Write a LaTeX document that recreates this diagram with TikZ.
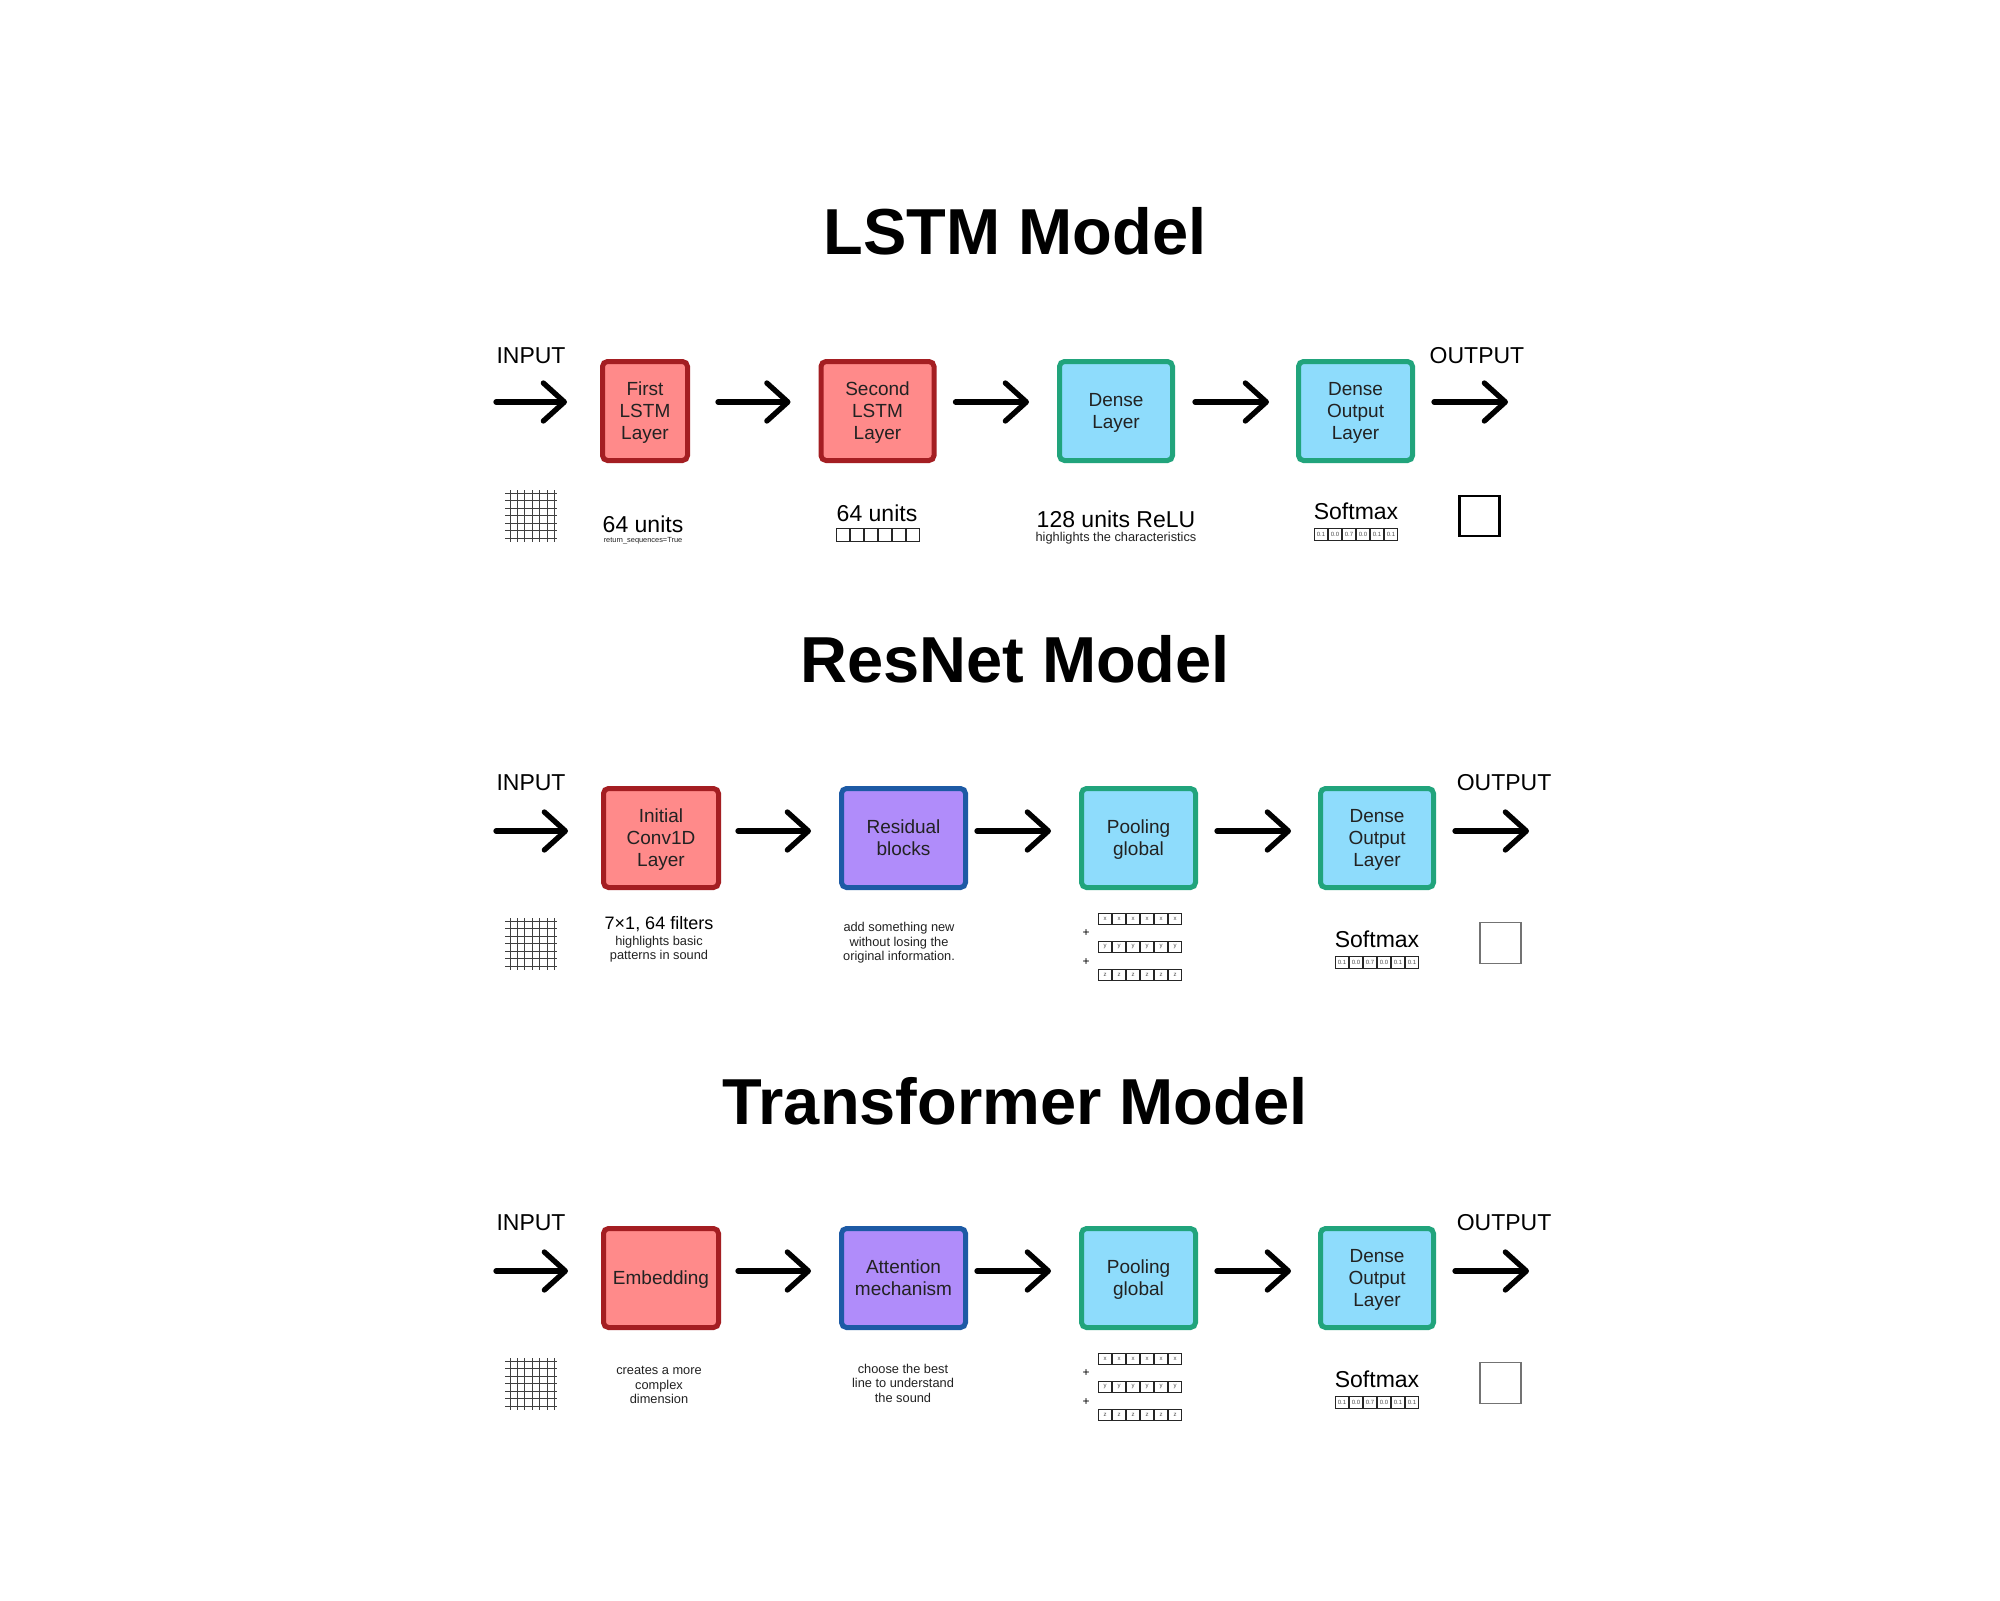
\documentclass[tikz,border=0pt]{standalone}
\usepackage{fontspec}
\setmainfont{Liberation Sans}
\usetikzlibrary{arrows.meta}

\definecolor{redfill}{HTML}{FF8A8A}
\definecolor{redline}{HTML}{A41E22}
\definecolor{cyanfill}{HTML}{8EDCFC}
\definecolor{tealline}{HTML}{21A47C}
\definecolor{violetfill}{HTML}{B08CFA}
\definecolor{blueline}{HTML}{1D5AA5}
\definecolor{inkgray}{HTML}{222222}

% grid icon for the input sound, top left corner at (#1,#2)
\newcommand{\soundgrid}[2]{%
  \foreach \k in {0,...,6}{%
    \draw[gridline] ({#1+5+7.4*\k},#2) -- ++(0,52);
    \draw[gridline] (#1,{#2+3.3+7.5*\k}) -- ++(52,0);
  }}
% a row of six small cells: name, left x, top y, height, labels
\newcommand{\cellrow}[5]{%
  \foreach \lab [count=\k] in {#5}{%
    \node[cell, minimum height=#4*0.5pt-0.6pt, name=#1\k] at ({#2+14*(\k-0.5)},{#3+#4/2}) {\lab};
  }}

\begin{document}
\begin{tikzpicture}[x=0.5pt,y=-0.5pt,
  title/.style={font=\fontsize{32.5}{39}\selectfont\bfseries, anchor=base},
  io/.style={font=\fontsize{11.5}{14}\selectfont, anchor=base},
  big/.style={font=\fontsize{11.5}{14}\selectfont, anchor=base},
  mid/.style={font=\fontsize{9}{11}\selectfont, anchor=base},
  note/.style={font=\fontsize{6.4}{7.25}\selectfont, align=center, text=inkgray, inner sep=0pt},
  tinynote/.style={font=\fontsize{3.7}{4}\selectfont, anchor=base, text=inkgray, inner sep=0pt},
  layer/.style={draw, line width=2.5pt, rounded corners=2.5pt, minimum height=49.5pt,
    align=center, text=inkgray, font=\fontsize{9.5}{11}\selectfont, inner sep=0pt,
    text depth=0pt},
  redlayer/.style={layer, fill=redfill, draw=redline},
  cyanlayer/.style={layer, fill=cyanfill, draw=tealline},
  violetlayer/.style={layer, fill=violetfill, draw=blueline},
  flow/.style={line width=2.65pt, line cap=round,
    -{Straight Barb[length=10.5pt,width=19pt,round]}},
  gridline/.style={line width=0.5pt, draw=black!75},
  cell/.style={draw=black!85, line width=0.6pt, minimum width=6.4pt, inner sep=0pt,
    font=\fontsize{3}{3}\selectfont, text=black!70},
  plus/.style={font=\fontsize{6}{6}\selectfont, inner sep=0pt},
  outbox/.style={draw, line width=1.25pt, minimum size=20pt, inner sep=0pt},
  outboxthin/.style={draw=black!55, line width=0.7pt, minimum size=20.5pt, inner sep=0pt}
]
\useasboundingbox[fill=white] (0,0) rectangle (2000,1600);

% ---- LSTM ----
\node[title] (t-lstm) at (1015,254) {LSTM Model};
\node[io] (l-input) at (531,363) {INPUT};
\node[io] (l-output) at (1477,363) {OUTPUT};
\coordinate (l-in) at (496,402);
\coordinate (l-out) at (1508,402);
\node[redlayer, minimum width=42.5pt] (l1) at (645,411) {First\\LSTM\\Layer};
\node[redlayer, minimum width=56.5pt] (l2) at (877.5,411) {Second\\LSTM\\Layer};
\node[cyanlayer, minimum width=56.5pt] (l3) at (1116,411) {Dense\\Layer};
\node[cyanlayer, minimum width=57pt] (l4) at (1355.5,411) {Dense\\Output\\Layer};
\draw[flow, shorten >=16.5pt] (l-in) -- ([yshift=4.5pt]l1.west);
\draw[flow, shorten <=14pt, shorten >=14pt] ([yshift=4.5pt]l1.east) -- ([yshift=4.5pt]l2.west);
\draw[flow, shorten <=9.5pt, shorten >=14pt] ([yshift=4.5pt]l2.east) -- ([yshift=4.5pt]l3.west);
\draw[flow, shorten <=10pt, shorten >=13.5pt] ([yshift=4.5pt]l3.east) -- ([yshift=4.5pt]l4.west);
\draw[flow, shorten <=9.5pt] ([yshift=4.5pt]l4.east) -- (l-out);

\soundgrid{505}{490}
\node[big] (l1-units) at (643,532) {64 units};
\node[tinynote] (l1-note) at (643,542) {return\_sequences=True};
\node[big] (l2-units) at (877,521) {64 units};
\cellrow{l2c}{836}{528}{14}{{},{},{},{},{},{}}
\node[big] (l3-units) at (1116,527) {128 units ReLU};
\node[note, anchor=base] (l3-note) at (1116,541) {highlights the characteristics};
\node[big] (l4-soft) at (1356,519) {Softmax};
\cellrow{l4c}{1314}{528}{13}{0.1,0.0,0.7,0.0,0.1,0.1}
\node[outbox] (l-result) at (1479.5,516) {};

% ---- ResNet ----
\node[title] (t-resnet) at (1015,682) {ResNet Model};
\node[io] (r-input) at (531,790) {INPUT};
\node[io] (r-output) at (1504,790) {OUTPUT};
\coordinate (r-in) at (496,831);
\coordinate (r-out) at (1529,831);
\node[redlayer, minimum width=57.5pt] (r1) at (661,838) {Initial\\Conv1D\\Layer};
\node[violetlayer, minimum width=62pt] (r2) at (903.5,838) {Residual\\blocks};
\node[cyanlayer, minimum width=57pt] (r3) at (1138.5,838) {Pooling\\global};
\node[cyanlayer, minimum width=56.5pt] (r4) at (1377,838) {Dense\\Output\\Layer};
\draw[flow, shorten >=16.5pt] (r-in) -- ([yshift=3.5pt]r1.west);
\draw[flow, shorten <=8.5pt, shorten >=14pt] ([yshift=3.5pt]r1.east) -- ([yshift=3.5pt]r2.west);
\draw[flow, shorten <=4.5pt, shorten >=14pt] ([yshift=3.5pt]r2.east) -- ([yshift=3.5pt]r3.west);
\draw[flow, shorten <=9.5pt, shorten >=13.5pt] ([yshift=3.5pt]r3.east) -- ([yshift=3.5pt]r4.west);
\draw[flow, shorten <=9.5pt] ([yshift=3.5pt]r4.east) -- (r-out);

\soundgrid{505}{918}
\node[mid] (r1-units) at (659,929) {7×1, 64 filters};
\node[note] (r1-note) at (659,949) {highlights basic\\patterns in sound};
\node[note] (r2-note) at (899,943) {add something new\\without losing the\\original information.};
\cellrow{rx}{1098}{913}{12}{x,x,x,x,x,x}
\node[plus] (r-plus1) at (1086,933) {+};
\cellrow{ry}{1098}{941}{12}{y,y,y,y,y,y}
\node[plus] (r-plus2) at (1086,962) {+};
\cellrow{rz}{1098}{969}{12}{z,z,z,z,z,z}
\node[big] (r4-soft) at (1377,947) {Softmax};
\cellrow{r4c}{1335}{956}{13}{0.1,0.0,0.7,0.0,0.1,0.1}
\node[outboxthin] (r-result) at (1500.5,943) {};

% ---- Transformer ----
\node[title] (t-trans) at (1015,1124) {Transformer Model};
\node[io] (t-input) at (531,1230) {INPUT};
\node[io] (t-output) at (1504,1230) {OUTPUT};
\coordinate (t-in) at (496,1271);
\coordinate (t-out) at (1529,1271);
\node[redlayer, minimum width=57.5pt] (e1) at (661,1278) {Embedding};
\node[violetlayer, minimum width=62pt] (e2) at (903.5,1278) {Attention\\mechanism};
\node[cyanlayer, minimum width=57pt] (e3) at (1138.5,1278) {Pooling\\global};
\node[cyanlayer, minimum width=56.5pt] (e4) at (1377,1278) {Dense\\Output\\Layer};
\draw[flow, shorten >=16.5pt] (t-in) -- ([yshift=3.5pt]e1.west);
\draw[flow, shorten <=8.5pt, shorten >=14pt] ([yshift=3.5pt]e1.east) -- ([yshift=3.5pt]e2.west);
\draw[flow, shorten <=4.5pt, shorten >=14pt] ([yshift=3.5pt]e2.east) -- ([yshift=3.5pt]e3.west);
\draw[flow, shorten <=9.5pt, shorten >=13.5pt] ([yshift=3.5pt]e3.east) -- ([yshift=3.5pt]e4.west);
\draw[flow, shorten <=9.5pt] ([yshift=3.5pt]e4.east) -- (t-out);

\soundgrid{505}{1358}
\node[note] (e1-note) at (659,1385) {creates a more\\complex\\dimension};
\node[note] (e2-note) at (903,1383) {choose the best\\line to understand\\the sound};
\cellrow{tx}{1098}{1353}{12}{x,x,x,x,x,x}
\node[plus] (t-plus1) at (1086,1373) {+};
\cellrow{ty}{1098}{1381}{12}{y,y,y,y,y,y}
\node[plus] (t-plus2) at (1086,1402) {+};
\cellrow{tz}{1098}{1409}{12}{z,z,z,z,z,z}
\node[big] (e4-soft) at (1377,1387) {Softmax};
\cellrow{e4c}{1335}{1396}{13}{0.1,0.0,0.7,0.0,0.1,0.1}
\node[outboxthin] (t-result) at (1500.5,1383) {};
\end{tikzpicture}
\end{document}
